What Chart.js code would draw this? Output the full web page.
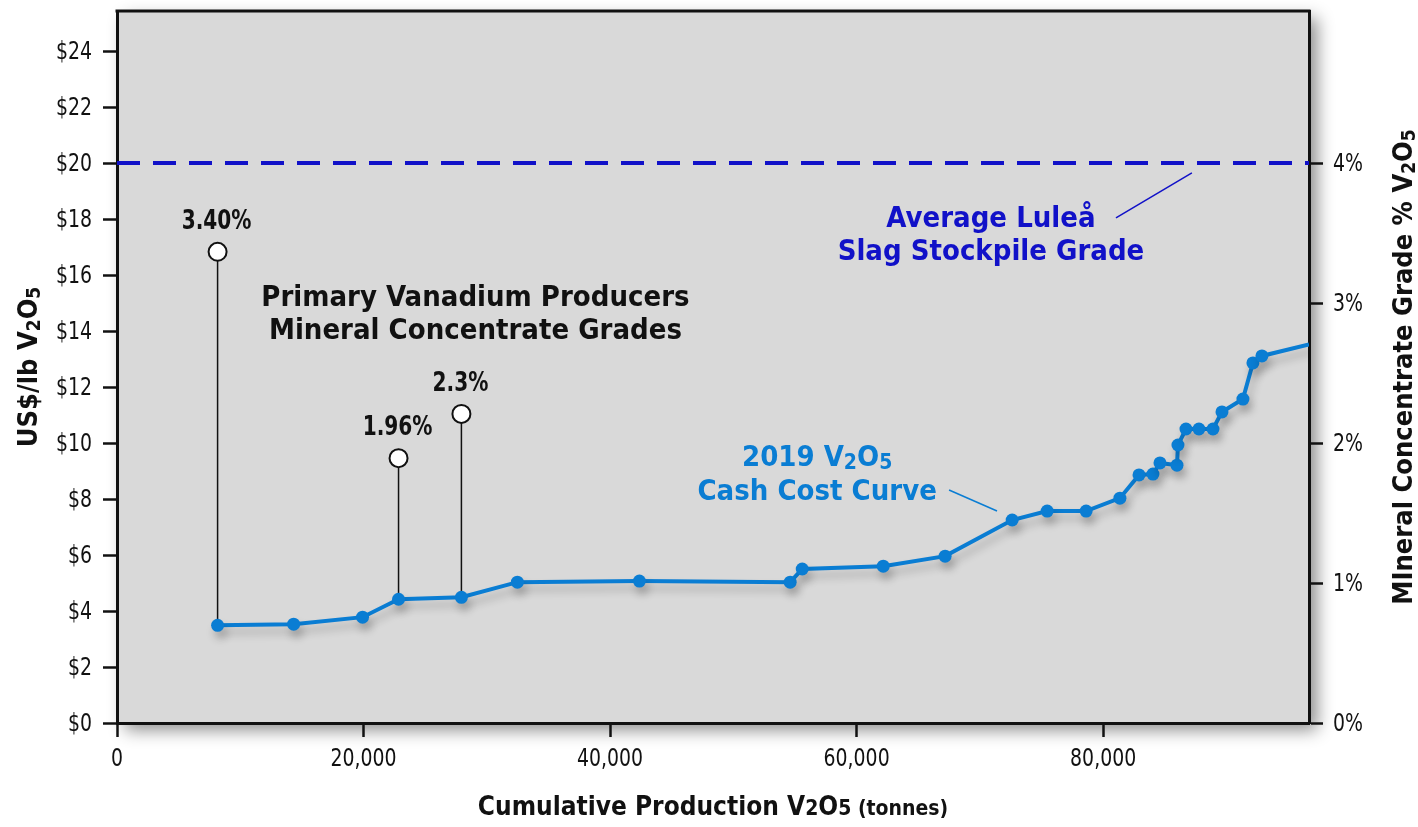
<!DOCTYPE html>
<html>
<head>
<meta charset="utf-8">
<script src="https://cdn.jsdelivr.net/npm/chart.js@4.4.1/dist/chart.umd.min.js"></script>
<style>
  html, body { margin: 0; padding: 0; background: #fff; }
</style>
</head>
<body>
<canvas id="chart" width="1418" height="827"></canvas>
<script>
// cumulative production (tonnes V2O5) and cash cost (US$/lb V2O5) for each producer step
const production = [8160, 14330, 19920, 22840, 27940, 32480, 42380, 54610, 55590, 62160, 67180,
  72620, 75460, 78620, 81360, 82910, 84040, 84610, 85990, 86070, 86720, 87770, 88910, 89640,
  91340, 92150, 92880, 96700];
const cashCost = [3.49, 3.53, 3.78, 4.42, 4.49, 5.03, 5.07, 5.03, 5.50, 5.60, 5.96,
  7.25, 7.57, 7.57, 8.03, 8.86, 8.89, 9.29, 9.21, 9.93, 10.50, 10.50, 10.50, 11.11,
  11.57, 12.86, 13.11, 13.52];

// primary producer concentrate grades (marker height drawn on the $ scale)
const gradeLabels = ["3.40%", "1.96%", "2.3%"];
const gradeProduction = [8160, 22840, 27940];
const gradeMarker = [16.83, 9.46, 11.04];
const gradeBase = [3.49, 4.42, 4.49];

const luleaGrade = 4;          // % V2O5, 1% on the right axis = $5 on the left
const costTicks = [0, 2, 4, 6, 8, 10, 12, 14, 16, 18, 20, 22, 24];
const gradeTicks = [0, 1, 2, 3, 4];
const productionTicks = [0, 20000, 40000, 60000, 80000];

const X_MAX = 96700;
const Y_MAX = 25.43;
const PCT_TO_USD = 5;

const REG = '"DejaVu Sans Condensed", "Roboto", sans-serif';
const BOLD = '"DejaVu Sans Condensed", "Roboto", sans-serif';
const CURVE_BLUE = "#0a7dd3";
const LULEA_BLUE = "#1111c8";
const INK = "#111";

// draws text made of parts, some smaller / lowered (subscripts), centred on cx
function drawRich(ctx, parts, cx, cy, size, color, sx) {
  sx = sx || 1;
  ctx.save();
  ctx.fillStyle = color;
  ctx.textBaseline = "middle";
  ctx.textAlign = "left";
  let width = 0;
  parts.forEach(p => {
    ctx.font = "bold " + Math.round(size * (p.s || 1)) + "px " + BOLD;
    width += ctx.measureText(p.t).width;
  });
  ctx.translate(cx, cy);
  ctx.scale(sx, 1);
  let x = -width / 2;
  parts.forEach(p => {
    ctx.font = "bold " + Math.round(size * (p.s || 1)) + "px " + BOLD;
    ctx.fillText(p.t, x, size * (p.dy || 0));
    x += ctx.measureText(p.t).width;
  });
  ctx.restore();
}

// condensed regular tick label
function drawTick(ctx, text, x, y, align) {
  ctx.save();
  ctx.translate(x, y);
  ctx.scale(0.84, 1);
  ctx.font = "25px " + REG;
  ctx.fillStyle = INK;
  ctx.textAlign = align;
  ctx.textBaseline = "middle";
  ctx.fillText(text, 0, 0);
  ctx.restore();
}

const v2o5 = [{ t: "V" }, { t: "2", s: 0.72, dy: 0.18 }, { t: "O" }, { t: "5", s: 0.72, dy: 0.18 }];

const backdrop = {
  id: "backdrop",
  beforeDraw(chart) {
    const { ctx, chartArea: a } = chart;
    ctx.save();
    ctx.shadowColor = "rgba(0,0,0,0.45)";
    ctx.shadowBlur = 16;
    ctx.shadowOffsetX = 8;
    ctx.shadowOffsetY = 7;
    ctx.fillStyle = "#d9d9d9";
    ctx.fillRect(a.left, a.top, a.right - a.left, a.bottom - a.top);
    ctx.restore();
  },
  beforeDatasetDraw(chart, args) {
    if (args.index !== 0) return;
    const ctx = chart.ctx;
    ctx.save();
    ctx.shadowColor = "rgba(0,0,0,0.22)";
    ctx.shadowBlur = 8;
    ctx.shadowOffsetX = 3;
    ctx.shadowOffsetY = 7;
  },
  afterDatasetDraw(chart, args) {
    if (args.index === 0) chart.ctx.restore();
  },
  afterDraw(chart) {
    const { ctx, chartArea: a, scales } = chart;
    const x = scales.x, y = scales.y, y2 = scales.y2;

    // tick labels
    costTicks.forEach(v => drawTick(ctx, "$" + v, a.left - 25, y.getPixelForValue(v) + 1, "right"));
    gradeTicks.forEach(v => drawTick(ctx, v + "%", a.right + 24, y2.getPixelForValue(v) + 1, "left"));
    productionTicks.forEach(v => drawTick(ctx, v.toLocaleString("en-US"), x.getPixelForValue(v),
      a.bottom + 36, "center"));

    // top edge of the frame
    ctx.save();
    ctx.strokeStyle = INK;
    ctx.lineWidth = 3;
    ctx.beginPath();
    ctx.moveTo(a.left - 1.5, a.top);
    ctx.lineTo(a.right + 1.5, a.top);
    ctx.stroke();

    // leader lines
    ctx.lineWidth = 1.5;
    ctx.strokeStyle = LULEA_BLUE;
    ctx.beginPath();
    ctx.moveTo(x.getPixelForValue(81040), y.getPixelForValue(18.04));
    ctx.lineTo(x.getPixelForValue(87200), y.getPixelForValue(19.65));
    ctx.stroke();
    ctx.strokeStyle = CURVE_BLUE;
    ctx.beginPath();
    ctx.moveTo(x.getPixelForValue(67500), y.getPixelForValue(8.32));
    ctx.lineTo(x.getPixelForValue(71390), y.getPixelForValue(7.57));
    ctx.stroke();
    ctx.restore();

    // grade labels above the white markers
    gradeLabels.forEach((lbl, i) => {
      drawRich(ctx, [{ t: lbl }], x.getPixelForValue(gradeProduction[i]) - 1,
        y.getPixelForValue(gradeMarker[i]) - 30, 26, INK, 0.86);
    });

    // annotations
    const px = x.getPixelForValue(29080);
    drawRich(ctx, [{ t: "Primary Vanadium Producers" }], px, y.getPixelForValue(15.18), 29, INK);
    drawRich(ctx, [{ t: "Mineral Concentrate Grades" }], px, y.getPixelForValue(13.97), 29, INK);

    const lx = x.getPixelForValue(70900);
    drawRich(ctx, [{ t: "Average Luleå" }], lx, y.getPixelForValue(17.97), 29, LULEA_BLUE);
    drawRich(ctx, [{ t: "Slag Stockpile Grade" }], lx, y.getPixelForValue(16.79), 29, LULEA_BLUE);

    const cx = x.getPixelForValue(56800);
    drawRich(ctx, [{ t: "2019 " }, ...v2o5], cx, y.getPixelForValue(9.46), 29, CURVE_BLUE);
    drawRich(ctx, [{ t: "Cash Cost Curve" }], cx, y.getPixelForValue(8.25), 29, CURVE_BLUE);

    // axis titles
    const midY = (a.top + a.bottom) / 2;
    ctx.save();
    ctx.translate(30, midY);
    ctx.rotate(-Math.PI / 2);
    drawRich(ctx, [{ t: "US$/lb " }, ...v2o5], 0, 0, 27, INK);
    ctx.restore();

    ctx.save();
    ctx.translate(1405, midY);
    ctx.rotate(-Math.PI / 2);
    drawRich(ctx, [{ t: "MIneral Concentrate Grade % " }, ...v2o5], 0, 0, 27, INK);
    ctx.restore();

    drawRich(ctx, [{ t: "Cumulative Production " }, { t: "V" }, { t: "2", s: 0.8, dy: 0.06 },
      { t: "O" }, { t: "5", s: 0.8, dy: 0.06 }, { t: " (tonnes)", s: 0.8, dy: 0.06 }],
      (a.left + a.right) / 2, 808, 26, INK);
  }
};

const axisGrid = { drawOnChartArea: false, drawTicks: true, tickLength: 14, tickWidth: 2.5, tickColor: INK };
const axisBorder = { display: true, color: INK, width: 3 };

const curve = production.map((p, i) => ({ x: p, y: cashCost[i] }));
const stems = gradeProduction.map((p, i) => ({
  data: [{ x: p, y: gradeMarker[i] }, { x: p, y: gradeBase[i] }],
  borderColor: INK,
  borderWidth: 1.5,
  pointRadius: [9, 0],
  pointBackgroundColor: "#fff",
  pointBorderColor: INK,
  pointBorderWidth: 2
}));

function noPad(s) {
  s.paddingTop = 0;
  s.paddingBottom = 0;
  s.paddingLeft = 0;
  s.paddingRight = 0;
}

new Chart(document.getElementById("chart"), {
  type: "line",
  data: {
    datasets: [
      {
        data: curve,
        borderColor: CURVE_BLUE,
        backgroundColor: CURVE_BLUE,
        borderWidth: 4,
        pointRadius: production.map((_, i) => (i === production.length - 1 ? 0 : 6.5)),
        pointBackgroundColor: CURVE_BLUE,
        pointBorderWidth: 0
      },
      ...stems,
      {
        data: [{ x: 0, y: luleaGrade * PCT_TO_USD }, { x: X_MAX, y: luleaGrade * PCT_TO_USD }],
        borderColor: LULEA_BLUE,
        borderWidth: 4,
        borderDash: [23, 13],
        pointRadius: 0
      }
    ]
  },
  options: {
    responsive: false,
    animation: false,
    devicePixelRatio: 1,
    layout: { padding: { top: 11, left: 0, right: 0, bottom: 0 } },
    plugins: { legend: { display: false }, tooltip: { enabled: false } },
    scales: {
      x: {
        type: "linear",
        min: 0,
        max: X_MAX,
        afterBuildTicks: s => { s.ticks = productionTicks.map(v => ({ value: v })); },
        afterFit: s => { s.height = 104; noPad(s); },
        grid: axisGrid,
        border: axisBorder,
        ticks: { display: false }
      },
      y: {
        position: "left",
        min: 0,
        max: Y_MAX,
        afterBuildTicks: s => { s.ticks = costTicks.map(v => ({ value: v })); },
        afterFit: s => { s.width = 117; noPad(s); },
        grid: axisGrid,
        border: axisBorder,
        ticks: { display: false }
      },
      y2: {
        position: "right",
        min: 0,
        max: Y_MAX / PCT_TO_USD,
        afterBuildTicks: s => { s.ticks = gradeTicks.map(v => ({ value: v })); },
        afterFit: s => { s.width = 109; noPad(s); },
        grid: axisGrid,
        border: axisBorder,
        ticks: { display: false }
      }
    }
  },
  plugins: [backdrop]
});
</script>
</body>
</html>
